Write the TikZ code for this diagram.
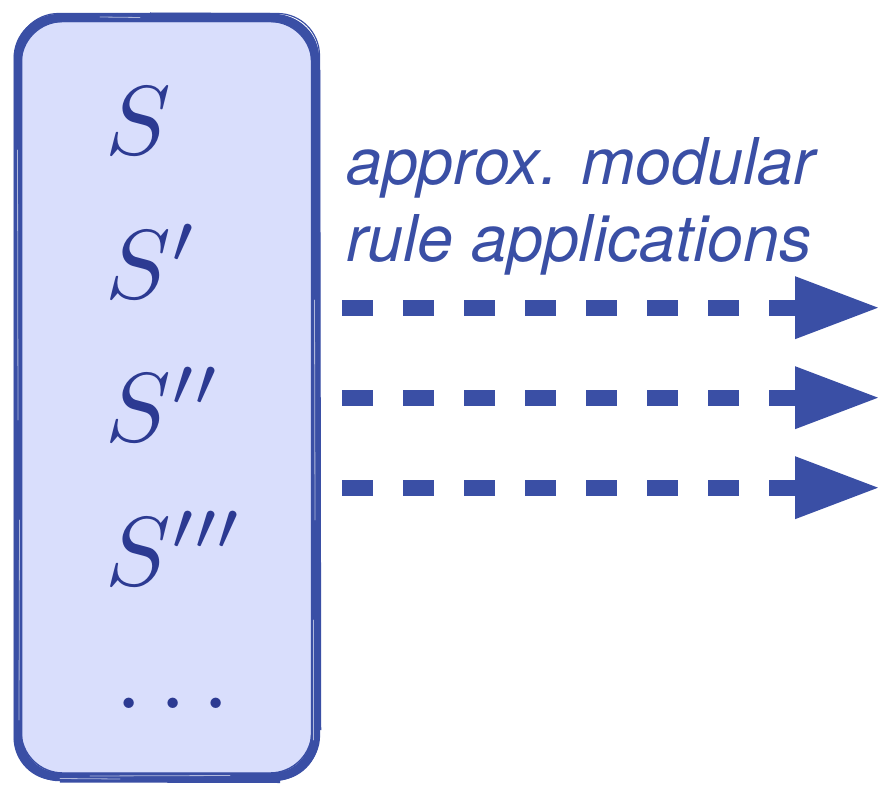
\documentclass[tikz,border=0pt]{standalone}
\usepackage{fontspec}
\newfontfamily\labelfont{TeX Gyre Heros}
\usetikzlibrary{arrows.meta}
\definecolor{inkblue}{RGB}{58,79,165}
\definecolor{mathblue}{RGB}{44,58,146}
\definecolor{boxfill}{RGB}{217,222,252}
\begin{document}
\begin{tikzpicture}[x=1pt,y=-1pt,
  statebox/.style={draw=inkblue, fill=boxfill, line width=8.5pt,
    rounded corners=42pt, minimum width=297pt, minimum height=759pt,
    inner sep=0pt},
  brush/.style={draw=inkblue, line width=#1, rounded corners=42pt},
  streak/.style={draw=white, opacity=0.6, line width=0.8pt, line cap=round},
  stateterm/.style={text=mathblue, inner sep=0pt, anchor=base west,
    font=\fontsize{10}{12}\selectfont, scale=9.8},
  caption/.style={text=inkblue, inner sep=0pt, anchor=base west,
    font=\labelfont\itshape\fontsize{64.5}{77}\selectfont},
  rulearrow/.style={draw=inkblue, line width=16pt, line cap=butt,
    dash pattern=on 30.7pt off 30.3pt,
    -{Triangle[length=83pt, width=63pt, line width=0pt]}}]
\useasboundingbox (0,0) rectangle (878,786);

% the set of states
\node[statebox] (states) at (166.5,397.5) {};
% rough brush strokes along the border
\draw[brush=2pt] (14.5,16) rectangle (318,779.5);
\draw[brush=1.4pt] (21,21.5) rectangle (312,773);
\draw[brush=1.2pt] (16.5,13.5) rectangle (319.5,777.5);
\draw[brush=3.5pt] (318.5,70) -- (319.5,730);
\draw[brush=3pt] (60,781) -- (280,781.5);
\draw[brush=2pt] (150,13.5) -- (270,14);
% light streaks inside the strokes
\draw[streak] (17.5,150) -- (18,420);
\draw[streak] (19.5,520) -- (19,720);
\draw[streak] (314.5,300) -- (315,520);
\draw[streak] (313.5,620) -- (313.5,740);
\draw[streak] (90,776) -- (230,775.5);
\draw[streak] (60,778.5) -- (120,779);
\draw[streak] (100,17) -- (140,17.5);

% state terms
\node[stateterm] (s0) at (104,155) {$S$};
\node[stateterm] (s1) at (104,298) {$S'$};
\node[stateterm] (s2) at (104,441.5) {$S''$};
\node[stateterm] (s3) at (104,585) {$S'''$};
\node[text=mathblue, inner sep=0pt, anchor=base,
  font=\fontsize{10}{12}\selectfont, scale=9.8] (sdots) at (173,708) {$\ldots$};

% caption
\node[caption] (cap1) at (346,185) {approx. modular};
\node[caption] (cap2) at (346,262) {rule applications};

% outgoing rule applications
\coordinate (a1s) at (342.3,307.7);
\coordinate (a1e) at (878,307.7);
\coordinate (a2s) at (342.3,397.7);
\coordinate (a2e) at (878,397.7);
\coordinate (a3s) at (342.3,487.7);
\coordinate (a3e) at (878,487.7);
\draw[rulearrow] (a1s) -- (a1e);
\draw[rulearrow] (a2s) -- (a2e);
\draw[rulearrow] (a3s) -- (a3e);
\end{tikzpicture}
\end{document}
